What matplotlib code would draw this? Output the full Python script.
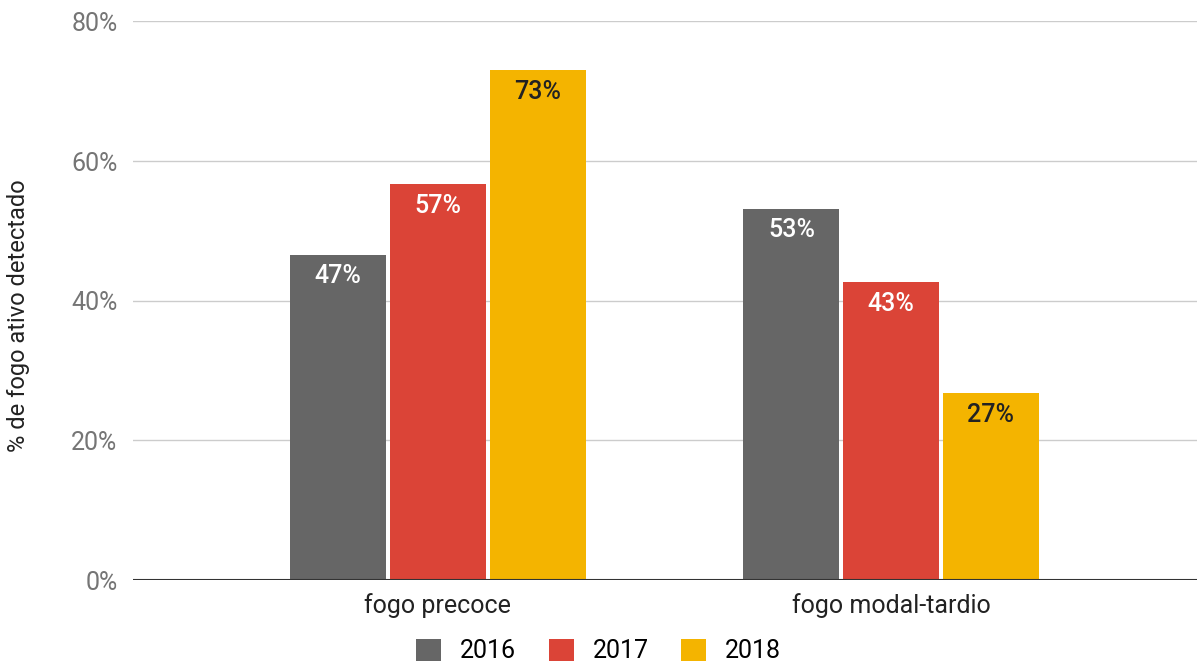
import matplotlib.pyplot as plt
import numpy as np

plt.rcParams['font.family'] = ['Roboto', 'DejaVu Sans']

# dados
categorias = ['fogo precoce', 'fogo modal-tardio']
anos = ['2016', '2017', '2018']
v2016 = [46.6, 53.2]
v2017 = [56.7, 42.7]
v2018 = [73.0, 26.8]
cores = ['#666666', '#db4437', '#f4b400']
cor_texto = ['white', 'white', '#222222']

fig = plt.figure(figsize=(11.97, 6.66), dpi=100)
ax = fig.add_axes([0.111, 0.129, 0.889, 0.839])

x = np.arange(len(categorias))
largura = 0.212
passo = 0.22

for i, (vals, ano) in enumerate(zip([v2016, v2017, v2018], anos)):
    pos = x + (i - 1) * passo
    barras = ax.bar(pos, vals, largura, color=cores[i], label=ano, zorder=3)
    for b, v in zip(barras, vals):
        ax.text(b.get_x() + b.get_width() / 2, v - 1.4, f'{round(v)}%',
                ha='center', va='top', fontsize=18, fontweight='medium',
                color=cor_texto[i], zorder=4)

ax.set_ylim(0, 80)
ax.set_xlim(-0.673, 1.675)
ax.set_yticks([0, 20, 40, 60, 80])
ax.set_yticklabels(['0%', '20%', '40%', '60%', '80%'])
ax.set_xticks(x)
ax.set_xticklabels(categorias)
ax.grid(axis='y', color='#cccccc', linewidth=1, zorder=0)
ax.axhline(0, color='#333333', linewidth=1.5, zorder=5)
for s in ax.spines.values():
    s.set_visible(False)
ax.tick_params(axis='y', length=0, pad=11, labelsize=18, labelcolor='#757575')
ax.tick_params(axis='x', length=0, pad=9, labelsize=18, labelcolor='#222222')
ax.set_ylabel('% de fogo ativo detectado', fontsize=17, color='#222222')
ax.yaxis.set_label_coords(-0.097, 0.474)

fig.legend(loc='lower center', bbox_to_anchor=(0.5, -0.03), ncol=3, frameon=False,
           fontsize=18, handlelength=1.0, handleheight=1.0, columnspacing=1.3,
           handletextpad=0.75)

fig.savefig('out.png', dpi=100)
